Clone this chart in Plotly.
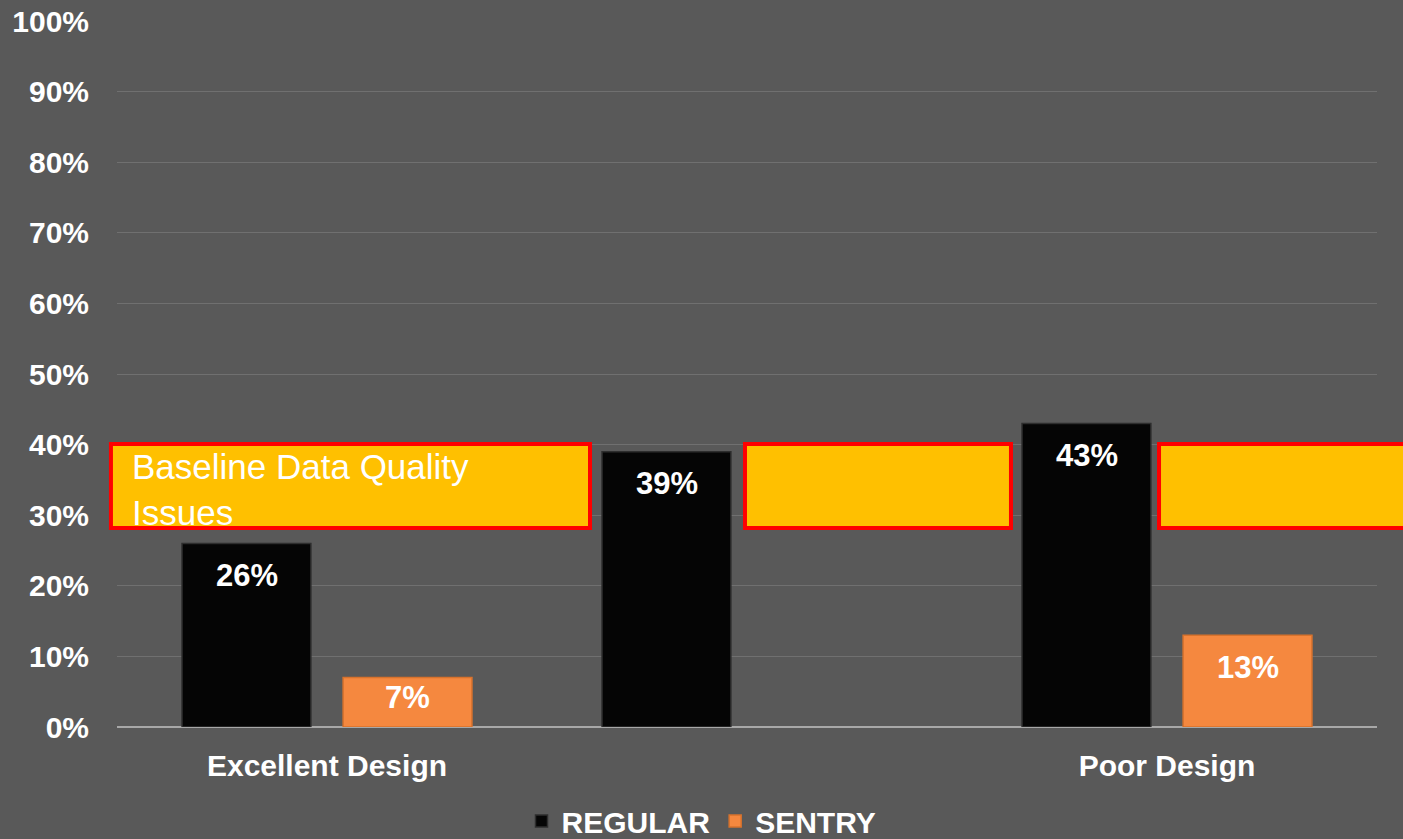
import plotly.graph_objects as go

# Chart data
categories = ["Excellent Design", " ", "Poor Design"]
regular = [0.26, 0.39, 0.43]
sentry = [0.07, None, 0.13]
y_ticks = [0.0, 0.1, 0.2, 0.3, 0.4, 0.5, 0.6, 0.7, 0.8, 0.9, 1.0]
y_tick_labels = ["0%", "10%", "20%", "30%", "40%", "50%", "60%", "70%", "80%", "90%", "100%"]
band_low, band_high = 0.282, 0.401   # baseline data-quality band
band_label = "Baseline Data Quality<br>Issues"

FONT = "Liberation Sans, Arial, Helvetica, sans-serif"
BG = "#595959"
PLOT_H = 839 - 21 - 112          # plot-area height in px

fig = go.Figure()
fig.add_trace(go.Bar(
    name="REGULAR", x=categories, y=regular,
    marker=dict(color="#050505", line=dict(color="#2e2e2e", width=1.5)),
    hoverinfo="y",
))
fig.add_trace(go.Bar(
    name="SENTRY", x=categories, y=sentry,
    marker=dict(color="#F5883F", line=dict(color="#d8722c", width=1.5)),
    hoverinfo="y",
))

# value labels near the top of each bar
half_slot = 80.5
for series, shift in ((regular, -half_slot), (sentry, half_slot)):
    for cat, v in zip(categories, series):
        if v is None:
            continue
        bar_px = v * PLOT_H
        drop = min(32, bar_px / 2 - 5)
        fig.add_annotation(
            x=cat, y=v, xref="x", yref="y", xshift=shift, yshift=-drop,
            yanchor="middle", showarrow=False,
            text=f"{round(v * 100)}%",
            font=dict(family=FONT, size=31, color="white", weight="bold"),
        )

# yellow bands; y axis spans 0..1 so paper y equals the value
for x0, x1 in ((-0.0048, 0.3754), (0.4984, 0.7095), (0.827, 1.06)):
    fig.add_shape(
        type="rect", xref="paper", yref="paper",
        x0=x0, x1=x1, y0=band_low, y1=band_high,
        fillcolor="#FFC000", line=dict(color="#FF0000", width=4),
        layer="above",
    )
fig.add_annotation(
    xref="paper", yref="paper", x=0.0105, y=0.337,
    xanchor="left", yanchor="middle", align="left", showarrow=False,
    text=band_label,
    font=dict(family=FONT, size=35, color="white"),
)

fig.update_layout(
    width=1403, height=839,
    paper_bgcolor=BG, plot_bgcolor=BG,
    margin=dict(l=117, r=26, t=21, b=112, autoexpand=False),
    barmode="group", bargap=0.233, bargroupgap=0.2,
    font=dict(family=FONT, color="white"),
    showlegend=True,
    legend=dict(
        orientation="h", xref="container", yref="paper",
        x=0.5, xanchor="center", y=-0.133, yanchor="middle",
        font=dict(family=FONT, size=30, color="white", weight="bold"),
        bgcolor="rgba(0,0,0,0)", itemwidth=30, traceorder="normal",
    ),
    xaxis=dict(
        type="category", showgrid=False, zeroline=False, showline=False,
        ticks="", ticklabelstandoff=18,
        tickfont=dict(family=FONT, size=30, color="white", weight="bold"),
    ),
    yaxis=dict(
        range=[0, 1], tickvals=y_ticks, ticktext=y_tick_labels,
        showgrid=True, gridcolor="#707070", gridwidth=1,
        zeroline=True, zerolinecolor="#a8a8a8", zerolinewidth=2,
        showline=False, ticks="", ticklabelstandoff=27,
        tickfont=dict(family=FONT, size=30, color="white", weight="bold"),
    ),
)

fig.write_html("out.html")
